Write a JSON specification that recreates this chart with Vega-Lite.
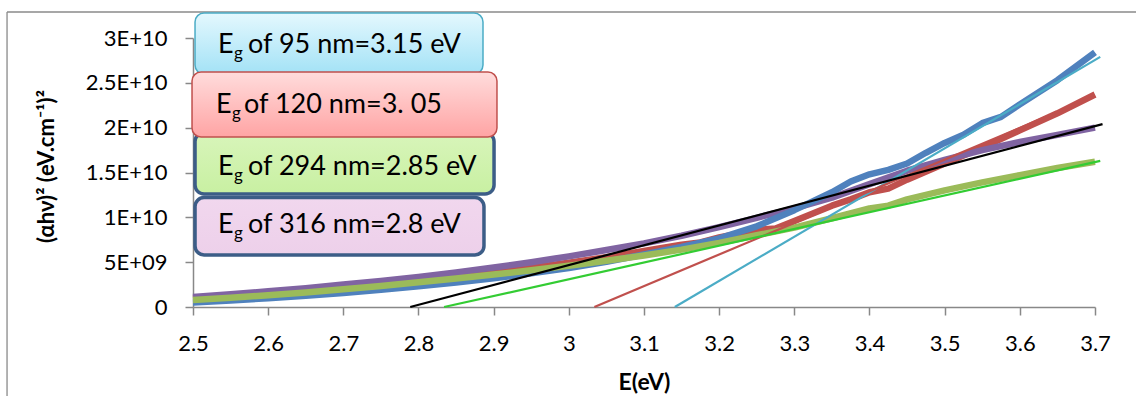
{
  "$schema": "https://vega.github.io/schema/vega-lite/v6.json",
  "width": 902,
  "height": 269,
  "autosize": {"type": "none"},
  "padding": {"left": 193, "top": 38, "right": 41, "bottom": 89},
  "background": "white",
  "config": {
    "view": {"stroke": null},
    "font": "Lato, 'Open Sans', 'DejaVu Sans', sans-serif"
  },
  "datasets": {
    "curves": [
      {"series": "120 nm", "E": 2.50, "value": 0.95e9},
      {"series": "120 nm", "E": 2.55, "value": 1.2e9},
      {"series": "120 nm", "E": 2.60, "value": 1.5e9},
      {"series": "120 nm", "E": 2.65, "value": 1.82e9},
      {"series": "120 nm", "E": 2.70, "value": 2.17e9},
      {"series": "120 nm", "E": 2.75, "value": 2.55e9},
      {"series": "120 nm", "E": 2.80, "value": 2.95e9},
      {"series": "120 nm", "E": 2.85, "value": 3.38e9},
      {"series": "120 nm", "E": 2.90, "value": 3.85e9},
      {"series": "120 nm", "E": 2.95, "value": 4.38e9},
      {"series": "120 nm", "E": 3.00, "value": 4.95e9},
      {"series": "120 nm", "E": 3.05, "value": 5.55e9},
      {"series": "120 nm", "E": 3.10, "value": 6.25e9},
      {"series": "120 nm", "E": 3.15, "value": 6.95e9},
      {"series": "120 nm", "E": 3.175, "value": 7.2e9},
      {"series": "120 nm", "E": 3.20, "value": 7.75e9},
      {"series": "120 nm", "E": 3.25, "value": 8.6e9},
      {"series": "120 nm", "E": 3.275, "value": 8.75e9},
      {"series": "120 nm", "E": 3.30, "value": 9.6e9},
      {"series": "120 nm", "E": 3.35, "value": 1.13e10},
      {"series": "120 nm", "E": 3.375, "value": 1.2e10},
      {"series": "120 nm", "E": 3.40, "value": 1.28e10},
      {"series": "120 nm", "E": 3.425, "value": 1.32e10},
      {"series": "120 nm", "E": 3.45, "value": 1.42e10},
      {"series": "120 nm", "E": 3.50, "value": 1.6e10},
      {"series": "120 nm", "E": 3.55, "value": 1.78e10},
      {"series": "120 nm", "E": 3.60, "value": 1.97e10},
      {"series": "120 nm", "E": 3.65, "value": 2.16e10},
      {"series": "120 nm", "E": 3.70, "value": 2.37e10},

      {"series": "316 nm", "E": 2.50, "value": 1.12e9},
      {"series": "316 nm", "E": 2.55, "value": 1.42e9},
      {"series": "316 nm", "E": 2.60, "value": 1.75e9},
      {"series": "316 nm", "E": 2.65, "value": 2.1e9},
      {"series": "316 nm", "E": 2.70, "value": 2.5e9},
      {"series": "316 nm", "E": 2.75, "value": 2.9e9},
      {"series": "316 nm", "E": 2.80, "value": 3.35e9},
      {"series": "316 nm", "E": 2.85, "value": 3.85e9},
      {"series": "316 nm", "E": 2.90, "value": 4.4e9},
      {"series": "316 nm", "E": 2.95, "value": 5.0e9},
      {"series": "316 nm", "E": 3.00, "value": 5.65e9},
      {"series": "316 nm", "E": 3.05, "value": 6.35e9},
      {"series": "316 nm", "E": 3.10, "value": 7.1e9},
      {"series": "316 nm", "E": 3.15, "value": 7.95e9},
      {"series": "316 nm", "E": 3.20, "value": 8.9e9},
      {"series": "316 nm", "E": 3.25, "value": 9.95e9},
      {"series": "316 nm", "E": 3.30, "value": 1.1e10},
      {"series": "316 nm", "E": 3.35, "value": 1.22e10},
      {"series": "316 nm", "E": 3.40, "value": 1.37e10},
      {"series": "316 nm", "E": 3.45, "value": 1.52e10},
      {"series": "316 nm", "E": 3.50, "value": 1.64e10},
      {"series": "316 nm", "E": 3.55, "value": 1.75e10},
      {"series": "316 nm", "E": 3.60, "value": 1.84e10},
      {"series": "316 nm", "E": 3.65, "value": 1.92e10},
      {"series": "316 nm", "E": 3.70, "value": 2.0e10},

      {"series": "95 nm", "E": 2.50, "value": 0.5e9},
      {"series": "95 nm", "E": 2.55, "value": 0.72e9},
      {"series": "95 nm", "E": 2.60, "value": 0.98e9},
      {"series": "95 nm", "E": 2.65, "value": 1.26e9},
      {"series": "95 nm", "E": 2.70, "value": 1.57e9},
      {"series": "95 nm", "E": 2.75, "value": 1.92e9},
      {"series": "95 nm", "E": 2.80, "value": 2.3e9},
      {"series": "95 nm", "E": 2.85, "value": 2.72e9},
      {"series": "95 nm", "E": 2.90, "value": 3.2e9},
      {"series": "95 nm", "E": 2.95, "value": 3.75e9},
      {"series": "95 nm", "E": 3.00, "value": 4.35e9},
      {"series": "95 nm", "E": 3.05, "value": 5.05e9},
      {"series": "95 nm", "E": 3.10, "value": 5.85e9},
      {"series": "95 nm", "E": 3.15, "value": 6.7e9},
      {"series": "95 nm", "E": 3.20, "value": 7.65e9},
      {"series": "95 nm", "E": 3.25, "value": 9.0e9},
      {"series": "95 nm", "E": 3.30, "value": 1.08e10},
      {"series": "95 nm", "E": 3.35, "value": 1.28e10},
      {"series": "95 nm", "E": 3.375, "value": 1.4e10},
      {"series": "95 nm", "E": 3.40, "value": 1.48e10},
      {"series": "95 nm", "E": 3.425, "value": 1.53e10},
      {"series": "95 nm", "E": 3.45, "value": 1.6e10},
      {"series": "95 nm", "E": 3.475, "value": 1.72e10},
      {"series": "95 nm", "E": 3.50, "value": 1.83e10},
      {"series": "95 nm", "E": 3.525, "value": 1.92e10},
      {"series": "95 nm", "E": 3.55, "value": 2.05e10},
      {"series": "95 nm", "E": 3.575, "value": 2.12e10},
      {"series": "95 nm", "E": 3.60, "value": 2.26e10},
      {"series": "95 nm", "E": 3.65, "value": 2.53e10},
      {"series": "95 nm", "E": 3.70, "value": 2.84e10},

      {"series": "294 nm", "E": 2.50, "value": 0.78e9},
      {"series": "294 nm", "E": 2.55, "value": 1.03e9},
      {"series": "294 nm", "E": 2.60, "value": 1.32e9},
      {"series": "294 nm", "E": 2.65, "value": 1.63e9},
      {"series": "294 nm", "E": 2.70, "value": 1.98e9},
      {"series": "294 nm", "E": 2.75, "value": 2.35e9},
      {"series": "294 nm", "E": 2.80, "value": 2.75e9},
      {"series": "294 nm", "E": 2.85, "value": 3.17e9},
      {"series": "294 nm", "E": 2.90, "value": 3.62e9},
      {"series": "294 nm", "E": 2.95, "value": 4.1e9},
      {"series": "294 nm", "E": 3.00, "value": 4.6e9},
      {"series": "294 nm", "E": 3.05, "value": 5.15e9},
      {"series": "294 nm", "E": 3.10, "value": 5.75e9},
      {"series": "294 nm", "E": 3.15, "value": 6.4e9},
      {"series": "294 nm", "E": 3.20, "value": 7.15e9},
      {"series": "294 nm", "E": 3.25, "value": 8.0e9},
      {"series": "294 nm", "E": 3.30, "value": 8.85e9},
      {"series": "294 nm", "E": 3.35, "value": 9.9e9},
      {"series": "294 nm", "E": 3.40, "value": 1.1e10},
      {"series": "294 nm", "E": 3.425, "value": 1.13e10},
      {"series": "294 nm", "E": 3.45, "value": 1.2e10},
      {"series": "294 nm", "E": 3.50, "value": 1.3e10},
      {"series": "294 nm", "E": 3.55, "value": 1.39e10},
      {"series": "294 nm", "E": 3.60, "value": 1.47e10},
      {"series": "294 nm", "E": 3.65, "value": 1.55e10},
      {"series": "294 nm", "E": 3.70, "value": 1.62e10}
    ],
    "fits": [
      {"series": "fit 95 nm", "E": 3.141, "value": 0},
      {"series": "fit 95 nm", "E": 3.707, "value": 2.79e10},
      {"series": "fit 120 nm", "E": 3.034, "value": 0},
      {"series": "fit 120 nm", "E": 3.70, "value": 2.35e10},
      {"series": "fit 294 nm", "E": 2.834, "value": 0},
      {"series": "fit 294 nm", "E": 3.707, "value": 1.63e10},
      {"series": "fit 316 nm", "E": 2.789, "value": 0},
      {"series": "fit 316 nm", "E": 3.71, "value": 2.04e10}
    ]
  },
  "layer": [
    {
      "data": {"values": [{}]},
      "mark": {"type": "rule", "color": "#8a8a8a", "strokeWidth": 1.3},
      "encoding": {
        "x": {"datum": 2.2526, "type": "quantitative"},
        "y": {"datum": 3.29e10, "type": "quantitative"},
        "y2": {"datum": -1.2e10}
      }
    },
    {
      "data": {"values": [{}]},
      "mark": {"type": "rule", "color": "#8a8a8a", "strokeWidth": 1.3},
      "encoding": {
        "x": {"datum": 2.2526, "type": "quantitative"},
        "x2": {"datum": 3.8},
        "y": {"datum": 3.29e10, "type": "quantitative"}
      }
    },
    {
      "data": {"name": "curves"},
      "mark": {"type": "line", "strokeWidth": 6.5, "strokeJoin": "round", "strokeCap": "butt"},
      "encoding": {
        "x": {
          "field": "E", "type": "quantitative",
          "scale": {"domain": [2.5, 3.7], "nice": false, "zero": false},
          "axis": {
            "values": [2.5, 2.6, 2.7, 2.8, 2.9, 3.0, 3.1, 3.2, 3.3, 3.4, 3.5, 3.6, 3.7],
            "format": ".1~f",
            "title": "E(eV)",
            "grid": false,
            "domainColor": "#888888", "domainWidth": 1.5,
            "tickColor": "#888888", "tickWidth": 1.5, "tickSize": 8,
            "labelFontSize": 22, "labelColor": "#000000",
            "labelBaseline": "alphabetic", "labelPadding": 35,
            "labelFlush": false, "labelOverlap": false,
            "titleFontSize": 23, "titleFontWeight": "bold", "titleColor": "#000000",
            "titleX": 451, "titleY": 75, "titleBaseline": "middle", "titleAlign": "center"
          }
        },
        "y": {
          "field": "value", "type": "quantitative",
          "scale": {"domain": [0, 3e10], "nice": false},
          "axis": {
            "values": [0, 5e9, 1e10, 1.5e10, 2e10, 2.5e10, 3e10],
            "labelExpr": "datum.value == 0 ? '0' : (datum.value == 5e9 ? '5E+09' : upper(format(datum.value, '~e')))",
            "title": "(αhν)² (eV.cm⁻¹)²",
            "grid": false,
            "domainColor": "#888888", "domainWidth": 1.5,
            "tickColor": "#888888", "tickWidth": 1.5, "tickSize": 8,
            "labelFontSize": 22, "labelColor": "#000000", "labelPadding": 18,
            "labelFlush": false, "labelOverlap": false,
            "titleFontSize": 22, "titleFontWeight": "bold", "titleColor": "#000000",
            "titleX": -147, "titleY": 128, "titleAngle": -90,
            "titleBaseline": "middle", "titleAlign": "center"
          }
        },
        "color": {
          "field": "series", "type": "nominal",
          "scale": {
            "domain": ["120 nm", "316 nm", "95 nm", "294 nm", "fit 95 nm", "fit 120 nm", "fit 294 nm", "fit 316 nm"],
            "range": ["#C0504D", "#8064A2", "#4F81BD", "#9BBB59", "#4BACC6", "#C0504D", "#33CC33", "#000000"]
          },
          "legend": null
        }
      }
    },
    {
      "data": {"name": "fits"},
      "mark": {"type": "line", "strokeWidth": 2.2},
      "encoding": {
        "x": {"field": "E", "type": "quantitative"},
        "y": {"field": "value", "type": "quantitative"},
        "color": {"field": "series", "type": "nominal", "legend": null}
      }
    },
    {
      "data": {"values": [{"main": "E", "sub": "g", "rest": "of 95 nm=3.15 eV"}]},
      "layer": [
        {
          "mark": {"type": "rect", "cornerRadius": 9, "stroke": "#4BACC6", "strokeWidth": 1.5,
            "fill": {"gradient": "linear", "x1": 0, "y1": 0, "x2": 0, "y2": 1,
              "stops": [{"offset": 0, "color": "#E4F8FE"}, {"offset": 1, "color": "#A3E2F6"}]}},
          "encoding": {
            "x": {"datum": 2.5027, "type": "quantitative"}, "x2": {"datum": 2.8858},
            "y": {"datum": 3.279e10, "type": "quantitative"}, "y2": {"datum": 2.598e10}
          }
        },
        {
          "mark": {"type": "text", "align": "left", "baseline": "alphabetic", "fontSize": 27, "color": "#000000"},
          "encoding": {"x": {"datum": 2.5333, "type": "quantitative"}, "y": {"datum": 2.833e10, "type": "quantitative"}, "text": {"field": "main"}}
        },
        {
          "mark": {"type": "text", "align": "left", "baseline": "alphabetic", "fontSize": 17, "dx": 16, "dy": 6, "color": "#000000"},
          "encoding": {"x": {"datum": 2.5333, "type": "quantitative"}, "y": {"datum": 2.833e10, "type": "quantitative"}, "text": {"field": "sub"}}
        },
        {
          "mark": {"type": "text", "align": "left", "baseline": "alphabetic", "fontSize": 27, "dx": 30, "color": "#000000"},
          "encoding": {"x": {"datum": 2.5333, "type": "quantitative"}, "y": {"datum": 2.833e10, "type": "quantitative"}, "text": {"field": "rest"}}
        }
      ]
    },
    {
      "data": {"values": [{"main": "E", "sub": "g", "rest": "of 294 nm=2.85 eV"}]},
      "layer": [
        {
          "mark": {"type": "rect", "cornerRadius": 9, "stroke": "#3C5D87", "strokeWidth": 3.5,
            "fill": {"gradient": "linear", "x1": 0, "y1": 0, "x2": 0, "y2": 1,
              "stops": [{"offset": 0, "color": "#D8F5BA"}, {"offset": 1, "color": "#C8F0A2"}]}},
          "encoding": {
            "x": {"datum": 2.5027, "type": "quantitative"}, "x2": {"datum": 2.9005},
            "y": {"datum": 1.945e10, "type": "quantitative"}, "y2": {"datum": 1.26e10}
          }
        },
        {
          "mark": {"type": "text", "align": "left", "baseline": "alphabetic", "fontSize": 27, "color": "#000000"},
          "encoding": {"x": {"datum": 2.5333, "type": "quantitative"}, "y": {"datum": 1.472e10, "type": "quantitative"}, "text": {"field": "main"}}
        },
        {
          "mark": {"type": "text", "align": "left", "baseline": "alphabetic", "fontSize": 17, "dx": 16, "dy": 6, "color": "#000000"},
          "encoding": {"x": {"datum": 2.5333, "type": "quantitative"}, "y": {"datum": 1.472e10, "type": "quantitative"}, "text": {"field": "sub"}}
        },
        {
          "mark": {"type": "text", "align": "left", "baseline": "alphabetic", "fontSize": 27, "dx": 30, "color": "#000000"},
          "encoding": {"x": {"datum": 2.5333, "type": "quantitative"}, "y": {"datum": 1.472e10, "type": "quantitative"}, "text": {"field": "rest"}}
        }
      ]
    },
    {
      "data": {"values": [{"main": "E", "sub": "g", "rest": "of 316 nm=2.8 eV"}]},
      "layer": [
        {
          "mark": {"type": "rect", "cornerRadius": 9, "stroke": "#3C5D87", "strokeWidth": 3.5,
            "fill": {"gradient": "linear", "x1": 0, "y1": 0, "x2": 0, "y2": 1,
              "stops": [{"offset": 0, "color": "#F1D7EE"}, {"offset": 1, "color": "#EDD0EA"}]}},
          "encoding": {
            "x": {"datum": 2.5027, "type": "quantitative"}, "x2": {"datum": 2.8871},
            "y": {"datum": 1.22e10, "type": "quantitative"}, "y2": {"datum": 5.8e9}
          }
        },
        {
          "mark": {"type": "text", "align": "left", "baseline": "alphabetic", "fontSize": 27, "color": "#000000"},
          "encoding": {"x": {"datum": 2.5333, "type": "quantitative"}, "y": {"datum": 8.25e9, "type": "quantitative"}, "text": {"field": "main"}}
        },
        {
          "mark": {"type": "text", "align": "left", "baseline": "alphabetic", "fontSize": 17, "dx": 16, "dy": 6, "color": "#000000"},
          "encoding": {"x": {"datum": 2.5333, "type": "quantitative"}, "y": {"datum": 8.25e9, "type": "quantitative"}, "text": {"field": "sub"}}
        },
        {
          "mark": {"type": "text", "align": "left", "baseline": "alphabetic", "fontSize": 27, "dx": 30, "color": "#000000"},
          "encoding": {"x": {"datum": 2.5333, "type": "quantitative"}, "y": {"datum": 8.25e9, "type": "quantitative"}, "text": {"field": "rest"}}
        }
      ]
    },
    {
      "data": {"values": [{"main": "E", "sub": "g", "rest": "of 120 nm=3. 05"}]},
      "layer": [
        {
          "mark": {"type": "rect", "cornerRadius": 9, "stroke": "#C0504D", "strokeWidth": 1.5,
            "fill": {"gradient": "linear", "x1": 0, "y1": 0, "x2": 0, "y2": 1,
              "stops": [{"offset": 0, "color": "#FFDCDC"}, {"offset": 1, "color": "#FFA4A4"}]}},
          "encoding": {
            "x": {"datum": 2.4987, "type": "quantitative"}, "x2": {"datum": 2.9044},
            "y": {"datum": 2.621e10, "type": "quantitative"}, "y2": {"datum": 1.896e10}
          }
        },
        {
          "mark": {"type": "text", "align": "left", "baseline": "alphabetic", "fontSize": 27, "color": "#000000"},
          "encoding": {"x": {"datum": 2.5306, "type": "quantitative"}, "y": {"datum": 2.163e10, "type": "quantitative"}, "text": {"field": "main"}}
        },
        {
          "mark": {"type": "text", "align": "left", "baseline": "alphabetic", "fontSize": 17, "dx": 16, "dy": 6, "color": "#000000"},
          "encoding": {"x": {"datum": 2.5306, "type": "quantitative"}, "y": {"datum": 2.163e10, "type": "quantitative"}, "text": {"field": "sub"}}
        },
        {
          "mark": {"type": "text", "align": "left", "baseline": "alphabetic", "fontSize": 27, "dx": 28, "color": "#000000"},
          "encoding": {"x": {"datum": 2.5306, "type": "quantitative"}, "y": {"datum": 2.163e10, "type": "quantitative"}, "text": {"field": "rest"}}
        }
      ]
    }
  ]
}
